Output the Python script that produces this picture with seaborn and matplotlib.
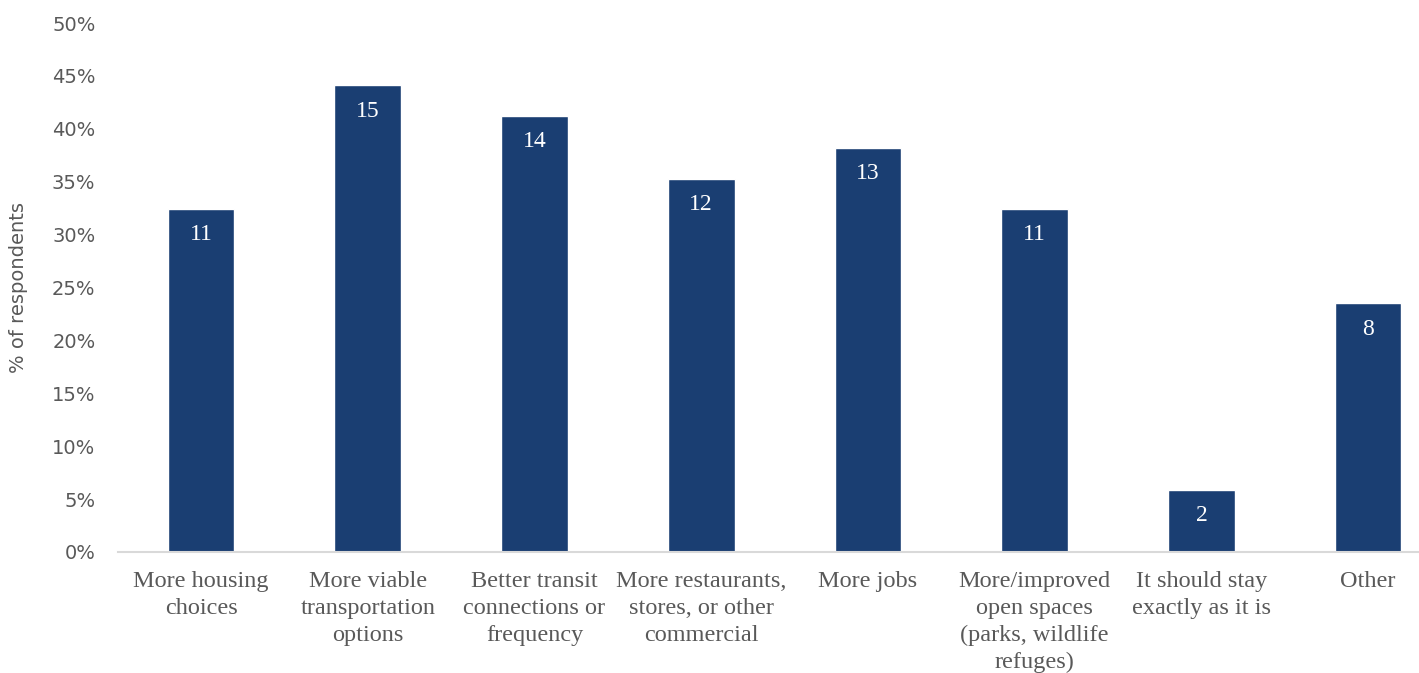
import matplotlib
matplotlib.use('Agg')
import matplotlib.pyplot as plt
import seaborn as sns
import pandas as pd
from matplotlib.ticker import PercentFormatter

categories = [
    "More housing\nchoices",
    "More viable\ntransportation\noptions",
    "Better transit\nconnections or\nfrequency",
    "More restaurants,\nstores, or other\ncommercial",
    "More jobs",
    "More/improved\nopen spaces\n(parks, wildlife\nrefuges)",
    "It should stay\nexactly as it is",
    "Other",
]
percent = [32.4, 44.1, 41.2, 35.3, 38.2, 32.4, 5.9, 23.5]
counts = [11, 15, 14, 12, 13, 11, 2, 8]

df = pd.DataFrame({"category": categories, "percent": percent, "count": counts})

sns.set_style("white")
bar_color = "#1a3e72"
grey = "#595959"

fig = plt.figure(figsize=(14.19, 6.73), dpi=100)
# axes runs past the right edge, as in the original (last slot is cropped)
ax = fig.add_axes([0.0829, 0.1798, 0.940, 0.786])

sns.barplot(data=df, x="category", y="percent", color=bar_color,
            width=0.4, saturation=1, ax=ax)

for i, (p, c) in enumerate(zip(percent, counts)):
    ax.annotate(str(c), (i, p), xytext=(0, -11), textcoords="offset points",
                ha="center", va="top", color="white", fontsize=17,
                family="Liberation Serif")

ax.set_xlim(-0.5, 7.5)
ax.set_ylim(0, 50)
ax.set_yticks(range(0, 51, 5))
ax.yaxis.set_major_formatter(PercentFormatter(decimals=0))
ax.tick_params(axis="y", labelsize=14, labelcolor=grey, length=0, pad=16)
ax.tick_params(axis="x", length=0, pad=14)
for lbl in ax.get_xticklabels():
    lbl.set_family("Liberation Serif")
    lbl.set_fontsize(17.5)
    lbl.set_color(grey)
    lbl.set_linespacing(1.36)
    lbl.set_va("top")

ax.set_xlabel("")
ax.set_ylabel("% of respondents", fontsize=14, color=grey)
ax.yaxis.set_label_coords(-0.067, 0.5)

for side in ["top", "right", "left"]:
    ax.spines[side].set_visible(False)
ax.spines["bottom"].set_color("#d9d9d9")
ax.spines["bottom"].set_linewidth(1.5)

fig.savefig("out.png", dpi=100)
